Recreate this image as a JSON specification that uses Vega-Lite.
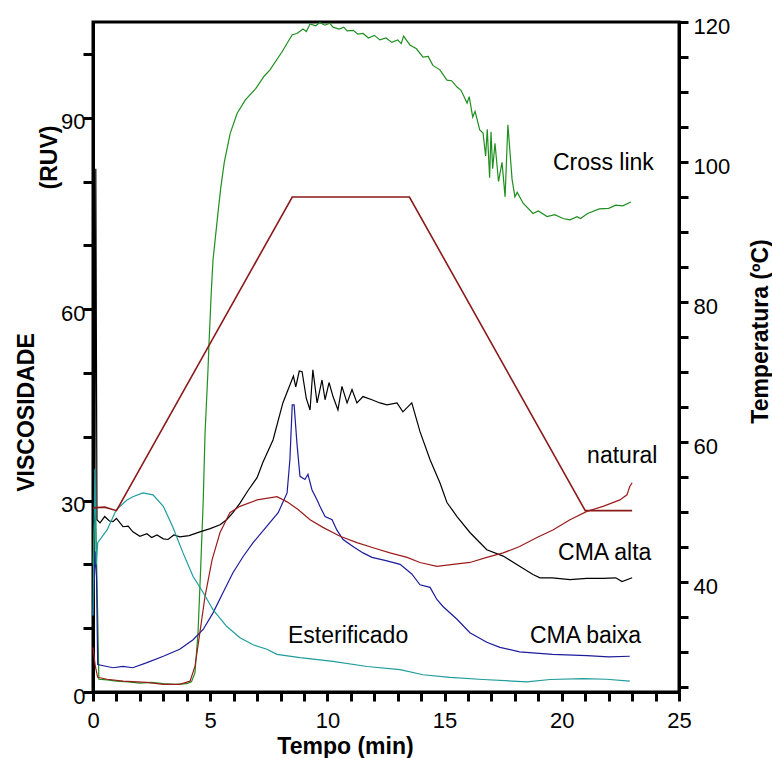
{
  "$schema": "https://vega.github.io/schema/vega-lite/v6.json",
  "width": 586,
  "height": 670,
  "autosize": "none",
  "padding": {"left": 93, "top": 22, "right": 93, "bottom": 66},
  "background": "white",
  "config": {
    "font": "Liberation Sans",
    "view": {"stroke": "black", "strokeWidth": 3},
    "axis": {"grid": false, "domainColor": "black", "domainWidth": 3, "tickColor": "black", "tickWidth": 3, "labelColor": "black", "titleColor": "black", "labelFont": "Liberation Sans", "titleFont": "Liberation Sans", "labelFontSize": 22, "titleFontSize": 23, "titleFontWeight": "bold", "labelOverlap": false, "labelFlush": false, "labelBound": false}
  },
  "datasets": {
    "visc": [
      {"s": "Cross link", "t": 0, "v": 20}, {"s": "Cross link", "t": 0.1, "v": 30}, {"s": "Cross link", "t": 0.2, "v": 12}, {"s": "Cross link", "t": 0.25, "v": 2.0}, {"s": "Cross link", "t": 0.6, "v": 1.9}, {"s": "Cross link", "t": 1.0, "v": 1.7}, {"s": "Cross link", "t": 1.5, "v": 1.6}, {"s": "Cross link", "t": 2.0, "v": 1.4}, {"s": "Cross link", "t": 2.5, "v": 1.5}, {"s": "Cross link", "t": 3.0, "v": 1.3}, {"s": "Cross link", "t": 3.5, "v": 1.2}, {"s": "Cross link", "t": 4.0, "v": 1.3}, {"s": "Cross link", "t": 4.2, "v": 1.6}, {"s": "Cross link", "t": 4.35, "v": 3}, {"s": "Cross link", "t": 4.48, "v": 9.3}, {"s": "Cross link", "t": 4.6, "v": 20}, {"s": "Cross link", "t": 4.7, "v": 29.7}, {"s": "Cross link", "t": 4.78, "v": 40.6}, {"s": "Cross link", "t": 4.9, "v": 50}, {"s": "Cross link", "t": 4.95, "v": 54.7}, {"s": "Cross link", "t": 5.05, "v": 63}, {"s": "Cross link", "t": 5.12, "v": 67.7}, {"s": "Cross link", "t": 5.2, "v": 70.5}, {"s": "Cross link", "t": 5.33, "v": 75}, {"s": "Cross link", "t": 5.45, "v": 79}, {"s": "Cross link", "t": 5.6, "v": 83}, {"s": "Cross link", "t": 5.85, "v": 87.5}, {"s": "Cross link", "t": 6.15, "v": 90.7}, {"s": "Cross link", "t": 6.5, "v": 92.8}, {"s": "Cross link", "t": 6.95, "v": 94.6}, {"s": "Cross link", "t": 7.3, "v": 96.5}, {"s": "Cross link", "t": 7.55, "v": 97.5}, {"s": "Cross link", "t": 8.06, "v": 100.3}, {"s": "Cross link", "t": 8.5, "v": 103}, {"s": "Cross link", "t": 8.7, "v": 103.2}, {"s": "Cross link", "t": 8.96, "v": 103.9}, {"s": "Cross link", "t": 9.1, "v": 103.5}, {"s": "Cross link", "t": 9.26, "v": 104.7}, {"s": "Cross link", "t": 9.5, "v": 104.4}, {"s": "Cross link", "t": 9.68, "v": 104.9}, {"s": "Cross link", "t": 9.9, "v": 104.5}, {"s": "Cross link", "t": 10.1, "v": 104.8}, {"s": "Cross link", "t": 10.24, "v": 104.2}, {"s": "Cross link", "t": 10.5, "v": 103.9}, {"s": "Cross link", "t": 10.7, "v": 104.2}, {"s": "Cross link", "t": 10.84, "v": 103.6}, {"s": "Cross link", "t": 11.1, "v": 103.7}, {"s": "Cross link", "t": 11.3, "v": 103.1}, {"s": "Cross link", "t": 11.52, "v": 103.2}, {"s": "Cross link", "t": 11.75, "v": 102.5}, {"s": "Cross link", "t": 12.0, "v": 102.9}, {"s": "Cross link", "t": 12.24, "v": 102.2}, {"s": "Cross link", "t": 12.5, "v": 102.5}, {"s": "Cross link", "t": 12.75, "v": 101.8}, {"s": "Cross link", "t": 13.0, "v": 102.2}, {"s": "Cross link", "t": 13.15, "v": 101.6}, {"s": "Cross link", "t": 13.25, "v": 102.8}, {"s": "Cross link", "t": 13.52, "v": 101.4}, {"s": "Cross link", "t": 13.8, "v": 100.8}, {"s": "Cross link", "t": 14.08, "v": 99.5}, {"s": "Cross link", "t": 14.3, "v": 99.6}, {"s": "Cross link", "t": 14.5, "v": 98.2}, {"s": "Cross link", "t": 14.8, "v": 97.5}, {"s": "Cross link", "t": 15.1, "v": 95.9}, {"s": "Cross link", "t": 15.3, "v": 95.8}, {"s": "Cross link", "t": 15.53, "v": 94.8}, {"s": "Cross link", "t": 15.7, "v": 94.3}, {"s": "Cross link", "t": 15.96, "v": 92.3}, {"s": "Cross link", "t": 16.05, "v": 93.3}, {"s": "Cross link", "t": 16.2, "v": 90.1}, {"s": "Cross link", "t": 16.3, "v": 91}, {"s": "Cross link", "t": 16.5, "v": 88.1}, {"s": "Cross link", "t": 16.64, "v": 87.6}, {"s": "Cross link", "t": 16.75, "v": 84}, {"s": "Cross link", "t": 16.82, "v": 88.2}, {"s": "Cross link", "t": 16.92, "v": 80.6}, {"s": "Cross link", "t": 16.98, "v": 87.8}, {"s": "Cross link", "t": 17.05, "v": 82}, {"s": "Cross link", "t": 17.15, "v": 86}, {"s": "Cross link", "t": 17.3, "v": 80}, {"s": "Cross link", "t": 17.45, "v": 83}, {"s": "Cross link", "t": 17.58, "v": 77.6}, {"s": "Cross link", "t": 17.7, "v": 88.9}, {"s": "Cross link", "t": 17.88, "v": 80.3}, {"s": "Cross link", "t": 18.0, "v": 77.6}, {"s": "Cross link", "t": 18.1, "v": 78.3}, {"s": "Cross link", "t": 18.35, "v": 76.6}, {"s": "Cross link", "t": 18.77, "v": 75.0}, {"s": "Cross link", "t": 19.0, "v": 75.4}, {"s": "Cross link", "t": 19.37, "v": 74.5}, {"s": "Cross link", "t": 19.7, "v": 74.8}, {"s": "Cross link", "t": 20.05, "v": 74.2}, {"s": "Cross link", "t": 20.35, "v": 74.0}, {"s": "Cross link", "t": 20.65, "v": 74.5}, {"s": "Cross link", "t": 20.8, "v": 74.2}, {"s": "Cross link", "t": 21.1, "v": 75}, {"s": "Cross link", "t": 21.6, "v": 75.7}, {"s": "Cross link", "t": 22.0, "v": 75.8}, {"s": "Cross link", "t": 22.3, "v": 76.3}, {"s": "Cross link", "t": 22.6, "v": 76.2}, {"s": "Cross link", "t": 22.95, "v": 76.8},

      {"s": "CMA alta", "t": 0, "v": 26}, {"s": "CMA alta", "t": 0.08, "v": 27}, {"s": "CMA alta", "t": 0.12, "v": 82}, {"s": "CMA alta", "t": 0.17, "v": 27}, {"s": "CMA alta", "t": 0.3, "v": 26.5}, {"s": "CMA alta", "t": 0.5, "v": 27.5}, {"s": "CMA alta", "t": 0.7, "v": 26.8}, {"s": "CMA alta", "t": 0.85, "v": 26.7}, {"s": "CMA alta", "t": 1.0, "v": 27.2}, {"s": "CMA alta", "t": 1.28, "v": 25.9}, {"s": "CMA alta", "t": 1.5, "v": 26.0}, {"s": "CMA alta", "t": 1.7, "v": 25.1}, {"s": "CMA alta", "t": 2.0, "v": 24.4}, {"s": "CMA alta", "t": 2.3, "v": 24.8}, {"s": "CMA alta", "t": 2.5, "v": 24.2}, {"s": "CMA alta", "t": 2.73, "v": 24.6}, {"s": "CMA alta", "t": 3.0, "v": 24.0}, {"s": "CMA alta", "t": 3.2, "v": 23.9}, {"s": "CMA alta", "t": 3.45, "v": 24.6}, {"s": "CMA alta", "t": 3.7, "v": 24.3}, {"s": "CMA alta", "t": 4.1, "v": 24.5}, {"s": "CMA alta", "t": 4.56, "v": 25.1}, {"s": "CMA alta", "t": 5.0, "v": 25.6}, {"s": "CMA alta", "t": 5.42, "v": 26.2}, {"s": "CMA alta", "t": 5.7, "v": 27}, {"s": "CMA alta", "t": 5.97, "v": 28.1}, {"s": "CMA alta", "t": 6.27, "v": 29.6}, {"s": "CMA alta", "t": 6.6, "v": 31.5}, {"s": "CMA alta", "t": 7.0, "v": 33.6}, {"s": "CMA alta", "t": 7.25, "v": 36}, {"s": "CMA alta", "t": 7.68, "v": 39.5}, {"s": "CMA alta", "t": 8.1, "v": 45.3}, {"s": "CMA alta", "t": 8.4, "v": 48.1}, {"s": "CMA alta", "t": 8.55, "v": 49.5}, {"s": "CMA alta", "t": 8.65, "v": 47.8}, {"s": "CMA alta", "t": 8.8, "v": 50.3}, {"s": "CMA alta", "t": 8.92, "v": 50.2}, {"s": "CMA alta", "t": 9.1, "v": 46}, {"s": "CMA alta", "t": 9.26, "v": 44.2}, {"s": "CMA alta", "t": 9.38, "v": 50.5}, {"s": "CMA alta", "t": 9.56, "v": 45.3}, {"s": "CMA alta", "t": 9.77, "v": 48.9}, {"s": "CMA alta", "t": 9.9, "v": 45.8}, {"s": "CMA alta", "t": 10.07, "v": 48.5}, {"s": "CMA alta", "t": 10.24, "v": 46.3}, {"s": "CMA alta", "t": 10.45, "v": 44.2}, {"s": "CMA alta", "t": 10.62, "v": 47.9}, {"s": "CMA alta", "t": 10.84, "v": 45.3}, {"s": "CMA alta", "t": 11.05, "v": 47.4}, {"s": "CMA alta", "t": 11.26, "v": 45.3}, {"s": "CMA alta", "t": 11.52, "v": 46.3}, {"s": "CMA alta", "t": 11.9, "v": 45.8}, {"s": "CMA alta", "t": 12.24, "v": 45.3}, {"s": "CMA alta", "t": 12.54, "v": 45.0}, {"s": "CMA alta", "t": 12.97, "v": 45.3}, {"s": "CMA alta", "t": 13.22, "v": 43.9}, {"s": "CMA alta", "t": 13.6, "v": 45.3}, {"s": "CMA alta", "t": 13.95, "v": 40.8}, {"s": "CMA alta", "t": 14.38, "v": 36.4}, {"s": "CMA alta", "t": 14.8, "v": 32.8}, {"s": "CMA alta", "t": 15.1, "v": 29.7}, {"s": "CMA alta", "t": 15.53, "v": 27.5}, {"s": "CMA alta", "t": 16.08, "v": 25}, {"s": "CMA alta", "t": 16.8, "v": 22.3}, {"s": "CMA alta", "t": 17.5, "v": 21.3}, {"s": "CMA alta", "t": 18.2, "v": 19.7}, {"s": "CMA alta", "t": 18.77, "v": 18.4}, {"s": "CMA alta", "t": 19.07, "v": 17.9}, {"s": "CMA alta", "t": 19.6, "v": 17.9}, {"s": "CMA alta", "t": 20.35, "v": 17.6}, {"s": "CMA alta", "t": 21.07, "v": 17.8}, {"s": "CMA alta", "t": 21.76, "v": 17.8}, {"s": "CMA alta", "t": 22.3, "v": 17.9}, {"s": "CMA alta", "t": 22.57, "v": 17.3}, {"s": "CMA alta", "t": 23.0, "v": 17.9},

      {"s": "CMA baixa", "t": 0, "v": 12}, {"s": "CMA baixa", "t": 0.1, "v": 22}, {"s": "CMA baixa", "t": 0.15, "v": 18}, {"s": "CMA baixa", "t": 0.2, "v": 4.3}, {"s": "CMA baixa", "t": 0.6, "v": 4.0}, {"s": "CMA baixa", "t": 0.85, "v": 3.8}, {"s": "CMA baixa", "t": 1.28, "v": 4.0}, {"s": "CMA baixa", "t": 1.7, "v": 3.8}, {"s": "CMA baixa", "t": 2.3, "v": 4.6}, {"s": "CMA baixa", "t": 3.0, "v": 5.6}, {"s": "CMA baixa", "t": 3.7, "v": 6.7}, {"s": "CMA baixa", "t": 4.27, "v": 8.2}, {"s": "CMA baixa", "t": 4.7, "v": 9.8}, {"s": "CMA baixa", "t": 5.12, "v": 12.4}, {"s": "CMA baixa", "t": 5.55, "v": 15.6}, {"s": "CMA baixa", "t": 5.97, "v": 18.7}, {"s": "CMA baixa", "t": 6.4, "v": 21.2}, {"s": "CMA baixa", "t": 6.83, "v": 23.4}, {"s": "CMA baixa", "t": 7.42, "v": 26}, {"s": "CMA baixa", "t": 7.9, "v": 28.1}, {"s": "CMA baixa", "t": 8.28, "v": 31.2}, {"s": "CMA baixa", "t": 8.4, "v": 36.4}, {"s": "CMA baixa", "t": 8.5, "v": 45}, {"s": "CMA baixa", "t": 8.58, "v": 45}, {"s": "CMA baixa", "t": 8.7, "v": 39}, {"s": "CMA baixa", "t": 8.83, "v": 33.8}, {"s": "CMA baixa", "t": 9.04, "v": 33.3}, {"s": "CMA baixa", "t": 9.17, "v": 34.1}, {"s": "CMA baixa", "t": 9.34, "v": 31.7}, {"s": "CMA baixa", "t": 9.56, "v": 30.1}, {"s": "CMA baixa", "t": 9.68, "v": 29.1}, {"s": "CMA baixa", "t": 9.9, "v": 27.5}, {"s": "CMA baixa", "t": 10.2, "v": 27}, {"s": "CMA baixa", "t": 10.4, "v": 25.4}, {"s": "CMA baixa", "t": 10.67, "v": 23.9}, {"s": "CMA baixa", "t": 11.09, "v": 22.8}, {"s": "CMA baixa", "t": 11.52, "v": 21.8}, {"s": "CMA baixa", "t": 11.9, "v": 21.1}, {"s": "CMA baixa", "t": 12.5, "v": 20.6}, {"s": "CMA baixa", "t": 13.1, "v": 20.0}, {"s": "CMA baixa", "t": 13.6, "v": 18.5}, {"s": "CMA baixa", "t": 13.95, "v": 16.8}, {"s": "CMA baixa", "t": 14.38, "v": 16.4}, {"s": "CMA baixa", "t": 14.67, "v": 14.5}, {"s": "CMA baixa", "t": 14.93, "v": 13.4}, {"s": "CMA baixa", "t": 15.53, "v": 11.4}, {"s": "CMA baixa", "t": 16.08, "v": 9.3}, {"s": "CMA baixa", "t": 16.8, "v": 7.8}, {"s": "CMA baixa", "t": 17.36, "v": 7.0}, {"s": "CMA baixa", "t": 18.2, "v": 6.3}, {"s": "CMA baixa", "t": 19.6, "v": 5.9}, {"s": "CMA baixa", "t": 21.07, "v": 5.7}, {"s": "CMA baixa", "t": 22.0, "v": 5.5}, {"s": "CMA baixa", "t": 22.9, "v": 5.6},

      {"s": "natural", "t": 0, "v": 7}, {"s": "natural", "t": 0.1, "v": 4}, {"s": "natural", "t": 0.2, "v": 2.3}, {"s": "natural", "t": 0.6, "v": 2.0}, {"s": "natural", "t": 1.28, "v": 1.7}, {"s": "natural", "t": 2.3, "v": 1.5}, {"s": "natural", "t": 3.0, "v": 1.2}, {"s": "natural", "t": 3.7, "v": 1.2}, {"s": "natural", "t": 4.14, "v": 1.7}, {"s": "natural", "t": 4.35, "v": 4.0}, {"s": "natural", "t": 4.56, "v": 9.3}, {"s": "natural", "t": 4.78, "v": 15}, {"s": "natural", "t": 5.08, "v": 20.7}, {"s": "natural", "t": 5.42, "v": 25}, {"s": "natural", "t": 5.84, "v": 28.1}, {"s": "natural", "t": 6.27, "v": 29.1}, {"s": "natural", "t": 7.0, "v": 30.1}, {"s": "natural", "t": 7.85, "v": 30.6}, {"s": "natural", "t": 8.28, "v": 29.8}, {"s": "natural", "t": 8.75, "v": 28.6}, {"s": "natural", "t": 9.26, "v": 27}, {"s": "natural", "t": 9.81, "v": 25.8}, {"s": "natural", "t": 10.54, "v": 24.4}, {"s": "natural", "t": 11.26, "v": 23.4}, {"s": "natural", "t": 11.95, "v": 22.6}, {"s": "natural", "t": 12.67, "v": 21.8}, {"s": "natural", "t": 13.4, "v": 21.1}, {"s": "natural", "t": 13.95, "v": 20.3}, {"s": "natural", "t": 14.67, "v": 19.7}, {"s": "natural", "t": 15.36, "v": 20.0}, {"s": "natural", "t": 16.08, "v": 20.3}, {"s": "natural", "t": 16.8, "v": 21.1}, {"s": "natural", "t": 17.5, "v": 21.8}, {"s": "natural", "t": 18.2, "v": 22.8}, {"s": "natural", "t": 18.94, "v": 24.2}, {"s": "natural", "t": 19.62, "v": 25.4}, {"s": "natural", "t": 20.35, "v": 27}, {"s": "natural", "t": 21.07, "v": 28.3}, {"s": "natural", "t": 21.76, "v": 29.1}, {"s": "natural", "t": 22.48, "v": 30.1}, {"s": "natural", "t": 22.78, "v": 30.9}, {"s": "natural", "t": 22.9, "v": 32.2}, {"s": "natural", "t": 23.0, "v": 32.8},

      {"s": "Esterificado", "t": 0, "v": 12}, {"s": "Esterificado", "t": 0.08, "v": 35}, {"s": "Esterificado", "t": 0.14, "v": 20}, {"s": "Esterificado", "t": 0.2, "v": 23.4}, {"s": "Esterificado", "t": 0.6, "v": 25.4}, {"s": "Esterificado", "t": 1.0, "v": 28.6}, {"s": "Esterificado", "t": 1.45, "v": 30.1}, {"s": "Esterificado", "t": 1.7, "v": 30.6}, {"s": "Esterificado", "t": 2.13, "v": 31.2}, {"s": "Esterificado", "t": 2.56, "v": 30.9}, {"s": "Esterificado", "t": 3.0, "v": 29.1}, {"s": "Esterificado", "t": 3.4, "v": 25.9}, {"s": "Esterificado", "t": 3.84, "v": 21.8}, {"s": "Esterificado", "t": 4.27, "v": 18.1}, {"s": "Esterificado", "t": 4.7, "v": 15.6}, {"s": "Esterificado", "t": 5.12, "v": 12.9}, {"s": "Esterificado", "t": 5.7, "v": 10.3}, {"s": "Esterificado", "t": 6.27, "v": 8.5}, {"s": "Esterificado", "t": 6.83, "v": 7.4}, {"s": "Esterificado", "t": 7.42, "v": 6.7}, {"s": "Esterificado", "t": 7.85, "v": 5.9}, {"s": "Esterificado", "t": 8.83, "v": 5.4}, {"s": "Esterificado", "t": 10.24, "v": 4.8}, {"s": "Esterificado", "t": 11.69, "v": 4.0}, {"s": "Esterificado", "t": 13.1, "v": 3.5}, {"s": "Esterificado", "t": 14.08, "v": 2.7}, {"s": "Esterificado", "t": 15.23, "v": 2.3}, {"s": "Esterificado", "t": 16.64, "v": 1.96}, {"s": "Esterificado", "t": 18.5, "v": 1.6}, {"s": "Esterificado", "t": 19.5, "v": 1.96}, {"s": "Esterificado", "t": 20.9, "v": 2.1}, {"s": "Esterificado", "t": 21.9, "v": 2.0}, {"s": "Esterificado", "t": 22.9, "v": 1.7}
    ],
    "temp": [
      {"t": 0, "T": 50.6}, {"t": 0.5, "T": 50.7}, {"t": 1.0, "T": 50.2}, {"t": 8.5, "T": 95}, {"t": 13.5, "T": 95}, {"t": 21.0, "T": 50.2}, {"t": 23.0, "T": 50.2}
    ],
    "labels": [
      {"label": "Cross link", "t": 19.62, "v": 81.8},
      {"label": "natural", "t": 21.08, "v": 35.9},
      {"label": "CMA alta", "t": 19.84, "v": 20.7},
      {"label": "CMA baixa", "t": 18.64, "v": 7.75},
      {"label": "Esterificado", "t": 8.32, "v": 7.75}
    ]
  },
  "encoding": {
    "x": {"field": "t", "type": "quantitative", "scale": {"domain": [0, 25], "nice": false, "zero": false},
      "axis": {"title": "Tempo (min)", "values": [0,1,2,3,4,5,6,7,8,9,10,11,12,13,14,15,16,17,18,19,20,21,22,23,24,25], "labelExpr": "datum.value % 5 === 0 ? datum.label : ''", "labelOverlap": false, "labelFlush": false, "labelBound": false, "tickSize": 9, "labelPadding": 26, "labelBaseline": "alphabetic", "titleX": 252, "titleY": 61, "titleBaseline": "alphabetic", "titleAlign": "center", "titleAnchor": null}}
  },
  "layer": [
    {
      "data": {"name": "visc"},
      "mark": {"type": "line", "strokeWidth": 1.2, "interpolate": "linear"},
      "encoding": {
        "y": {"field": "v", "type": "quantitative", "scale": {"domain": [0, 105], "nice": false, "zero": false},
          "axis": {"orient": "left", "title": "VISCOSIDADE", "values": [0,10,20,30,40,50,60,70,80,90,100], "labelExpr": "datum.value % 30 === 0 ? datum.label : ''", "labelOverlap": false, "labelFlush": false, "tickSize": 10, "labelPadding": -2, "labelBaseline": "alphabetic", "labelOffset": 11, "titleAngle": -90, "titleX": -60, "titleY": 390, "titleBaseline": "alphabetic", "titleAlign": "center"}},
        "color": {"field": "s", "type": "nominal", "legend": null,
          "scale": {"domain": ["Cross link", "natural", "CMA alta", "CMA baixa", "Esterificado"], "range": ["#1f8f1f", "#9b1c1c", "#000000", "#1c1c9b", "#1f9c9c"]}},
        "detail": {"field": "s"},
        "order": {"field": "t", "type": "quantitative"}
      }
    },
    {
      "data": {"name": "temp"},
      "mark": {"type": "line", "strokeWidth": 1.6, "color": "#8b1a1a"},
      "encoding": {
        "y": {"field": "T", "type": "quantitative", "scale": {"domain": [24.3, 120], "nice": false, "zero": false},
          "axis": {"orient": "right", "title": "Temperatura (ºC)", "values": [25,30,35,40,45,50,55,60,65,70,75,80,85,90,95,100,105,110,115,120], "labelExpr": "datum.value % 20 === 0 ? datum.label : ''", "labelOverlap": false, "labelFlush": false, "tickSize": 9, "labelPadding": 5, "labelBaseline": "alphabetic", "labelOffset": 11, "titleAngle": -90, "titleX": 88, "titleY": 309, "titleBaseline": "alphabetic", "titleAlign": "center"}}
      }
    },
    {
      "data": {"name": "labels"},
      "mark": {"type": "text", "align": "left", "baseline": "alphabetic", "font": "Liberation Sans", "fontSize": 23, "color": "black"},
      "encoding": {
        "y": {"field": "v", "type": "quantitative", "scale": {"domain": [0, 105], "nice": false, "zero": false},
          "axis": {"orient": "left", "title": "(RUV)", "domain": false, "ticks": false, "labels": false, "titleAngle": -90, "titleX": -37, "titleY": 135, "titleBaseline": "alphabetic", "titleAlign": "center"}},
        "text": {"field": "label"}
      }
    }
  ],
  "resolve": {"scale": {"y": "independent"}}
}
